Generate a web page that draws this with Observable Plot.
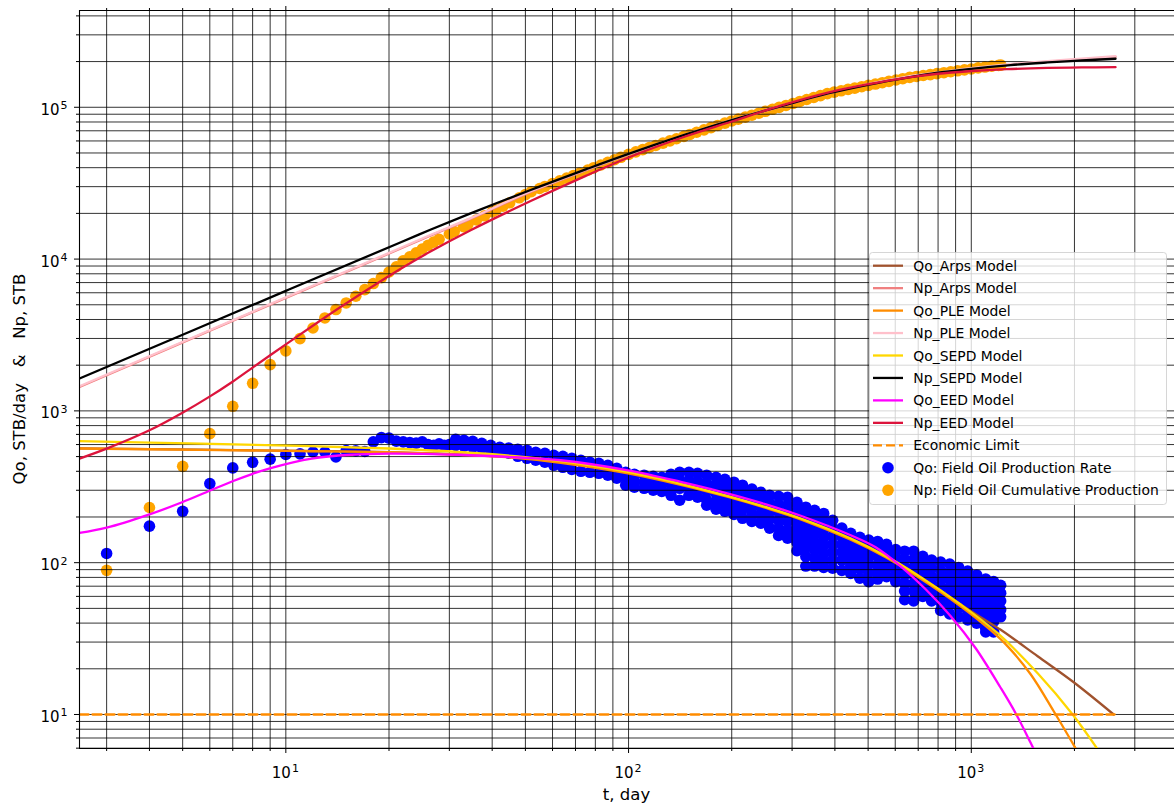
<!DOCTYPE html>
<html>
<head>
<meta charset="utf-8">
<script src="https://cdn.jsdelivr.net/npm/d3@7"></script>
<script src="https://cdn.jsdelivr.net/npm/@observablehq/plot@0.6"></script>
<style>
  html, body { margin: 0; padding: 0; background: #fff; }
  #chart { position: relative; width: 1174px; height: 807px; }
  #chart svg text { white-space: pre; }
  #overlay { position: absolute; left: 0; top: 0; pointer-events: none; }
</style>
</head>
<body>
<div id="chart"></div>
<script>
// ---------------- axis ticks & labels ----------------
const xMajorTicks = [10, 100, 1000];
const xTickLabels = ["10^1", "10^2", "10^3"];
const xMinorTicks = [3,4,5,6,7,8,9,20,30,40,50,60,70,80,90,200,300,400,500,600,700,800,900,2000,3000];
const yMajorTicks = [10, 100, 1000, 10000, 100000];
const yTickLabels = ["10^1", "10^2", "10^3", "10^4", "10^5"];
const yMinorTicks = [6,7,8,9,20,30,40,50,60,70,80,90,200,300,400,500,600,700,800,900,
  2000,3000,4000,5000,6000,7000,8000,9000,20000,30000,40000,50000,60000,70000,80000,90000,200000,300000,400000];
const xDomain = [2.5, 3917];
const yDomain = [5.97, 434000];
const xTitle = "t, day";
const yTitle = "Qo, STB/day   &   Np, STB";

// ---------------- observed data ----------------
// Qo: field oil production rate (STB/day)
const qoEarlyDays  = [3,4,5,6,7,8,9,10,11,12,13,14,15,16,17,18,19,20,21,22,23,24,25,26,27,28,29,30];
const qoEarlyRates = [115,174,218,332,421,458,481,516,521,536,536,497,548,545,540,625,667,662,632,625,618,613,625,600,593,606,593,600];
const qoCloudDays = [31.3,33.1,35.1,37.3,39.6,42.1,44.7,47.5,50.5,53.6,57,60.5,64.3,68.3,72.6,77.1,81.9,87,92.4,98.1,
  104,111,118,125,133,141,150,159,169,180,191,203,215,229,243,258,274,291,310,329,
  349,371,394,419,445,473,502,533,566,602,639,679,722,766,814,865,919,976,1037,1102,1162,1218];
const qoCloudRates = [
  [650,593],[640,585],[631,576],[612,568],[593,550],[576,542],[568,526],[559,502],[550,487],[534,473],
  [526,459],[510,438],[502,425],[487,412],[473,400],[459,394],[452,388],[438,406,377],[419,388,360],[394,360,324],
  [382,344,314],[377,339,309],[371,334,300],[365,328,295],[382,339,300,278],[394,349,309,258],[394,349,309,278],[388,344,305,270],[377,334,295,258,239],[365,324,286,254,225],
  [354,314,278,246,218],[339,300,265,235,208],[324,286,254,225,196],[305,270,239,211,187],[291,262,232,205,182],[278,246,218,193,169],[274,243,215,190,169,151],[270,239,211,187,163,145],[250,221,196,174,154,136,120],[232,205,182,161,143,126,110,95],
  [221,196,174,154,136,121,107,95],[211,187,166,147,130,115,102,93],[190,169,149,132,117,104,92],[169,149,132,117,104,89],[156,138,122,109,96,85],[147,130,115,102,91,79],[141,124,110,98,86,75],[138,122,109,96,85,78],[132,117,104,92,81],[122,109,96,85,75],
  [119,105,93,83,73,65,57],[119,105,93,83,73,65,56],[110,98,86,77,68,60],[104,92,81,72,64,56],[101,89,79,70,62,55,48.5],[98,86,77,68,60,53,46],[93,83,73,65,57,51,44],[88,78,69,61,54,48,42],[83,73,65,57,51,45,40],[78,69,61,54,48,42,37,35],
  [75,67,59,52,46,41,35],[71,63,56,49,44]
];
// Np: field oil cumulative production (STB)
const npEarlyDays   = [3,4,5,6,7,8,9,10,11,12,13,14,15,16,17,18,19,20,21];
const npEarlyValues = [89,231,431,708,1072,1520,2018,2483,2993,3516,4094,4650,5140,5690,6290,6900,7550,8220,8900];
const npBandDays = [22,23,24,25,26,27,28,30,31,33,34,36,38,40,41,43,45,48,50,52,55,57,60,63,66,69,72,76,79,83,87,91,95,100,105,
  110,115,120,126,132,138,145,151,158,166,174,182,191,200,209,219,229,240,251,263,275,288,302,316,331,347,363,380,398,417,437,457,479,
  501,525,550,575,603,631,661,692,724,759,794,832,871,912,955,1000,1047,1096,1148,1202,1220];
const npBandValues = [9730,10350,10990,11650,12320,12940,13500,14630,15200,16350,16930,18100,19280,20480,21070,22280,23490,25330,26570,27780,29160,
  30080,31450,32810,34150,35490,36820,38590,39900,41650,43380,45100,46810,48940,50830,52580,54310,56020,58040,60050,62030,64320,
  66240,68470,70980,73450,75890,78610,81260,83610,86150,88690,91410,94100,96980,99790,102800,106000,109200,112500,116000,119400,123000,
  125800,128400,131100,133800,136600,139300,142200,145200,148100,151200,154300,157400,159600,161900,164200,166600,169000,171400,173900,176400,178700,
  181800,184100,186600,188900,189500];

// ---------------- model curves ----------------
const qoArpsDays  = [2.5,5.65,11.06,20,32,46.6,63.4,99.5,142,194,249,318,445,562.7,697.6,931,1194,1243,1562,1990,2603];
const qoArpsRates = [566,555,545,535,516,495,460,393,329,274,233,194.5,144.3,110.7,82.8,53.1,37.2,35.1,24.2,16.3,10];
const npArpsDays   = [2.5,10,21.4,26.5,34.6,51.8,75,100,147,199,278,384,499,657,798,983,1303,1671,2099,2636];
const npArpsValues = [1437,5550,11610,14310,18410,27680,38360,48680,65550,81530,101100,123400,140800,158400,167800,178300,190700,199500,207000,214600];
const qoPleDays  = [2.5,5.65,11.06,20,32,46.6,63.4,99.5,142,194,249,318,445,562.7,697.6,931,1139,1277,1490,1740,2017];
const qoPleRates = [565,554,544,534,514,491,455,388,326,272,231,193,141.5,108.5,80.7,51.6,35.9,28.1,18.4,10.5,5.97];
const npPleDays   = [2.5,10,21.4,26.5,34.6,51.8,75,100,147,199,278,384,499,657,798,983,1303,1671,2099,2636];
const npPleValues = [1452,5600,11730,14460,18600,27960,38750,49170,66210,82350,102100,124600,142200,160000,169500,180100,192600,201500,209100,216800];
const qoSepdDays  = [2.5,5.65,11.06,20,32,46.6,63.4,99.5,142,194,249,318,445,562.7,697.6,931,1194,1562,1976,2337];
const qoSepdRates = [632,608,588,565,536,503,466,396,331,275.5,234,195.5,144.3,110.7,82.8,53.1,34.3,18.7,10,5.9];
const npSepdDays   = [2.5,10,21.4,26.5,34.6,51.8,75,100,147,199,278,384,499,657,798,983,1303,1671,2099,2636];
const npSepdValues = [1633,6173,12770,15650,20000,28530,38980,49320,66210,82110,101500,123700,140700,157600,168800,178500,189700,197300,203400,208700];
const qoEedDays  = [2.5,3,4,4.98,5.99,6.99,8,8.98,11.9,15.5,20,32,46.6,63.4,99.5,142,194,249,318,445,526,622.5,736,871,1030,1218,1347,1490,1594];
const qoEedRates = [157,170,208,250,297.6,343.8,385,418.6,485,514,523,514,495,473,406,341,286.6,244.3,203.7,151.5,126.3,94.7,66.8,44.4,27.3,15,10.2,6.51,4.77];
const npEedDays   = [2.5,3,4,4.98,5.99,6.99,8,10,11.9,14.9,21.4,26.5,34.6,51.8,75,100,147,199,278,384,499,657,798,983,1268,1671,2099,2636];
const npEedValues = [485,564,745,969,1241,1557,1929,2742,3597,5053,8503,11250,15480,24110,35330,46700,64400,80300,102500,125500,141800,157600,166300,172700,178200,181500,182900,183700];
const econDays  = [2.5, 2620];
const econRates = [10, 10];

// legend
const legendLabels = ["Qo_Arps Model","Np_Arps Model","Qo_PLE Model","Np_PLE Model","Qo_SEPD Model","Np_SEPD Model",
  "Qo_EED Model","Np_EED Model","Economic Limit","Qo: Field Oil Production Rate","Np: Field Oil Cumulative Production"];
const legendColors = ["#a0522d","#f08080","#ff8c00","#ffc0cb","#ffd700","#000000","#ff00ff","#dc143c","#ff8c00","#0000ff","#ffa500"];
const legendKinds  = ["line","line","line","line","line","line","line","line","dash","dot","dot"];

// ---------------- build tables ----------------
const toRows = (days, vals) => days.map((t, i) => ({t, v: vals[i]}));
const qoPoints = [
  ...toRows(qoEarlyDays, qoEarlyRates),
  ...qoCloudDays.flatMap((t, i) => qoCloudRates[i].map(v => ({t, v})))
];
const npPoints = [...toRows(npEarlyDays, npEarlyValues), ...toRows(npBandDays, npBandValues)];
const models = [
  {rows: toRows(qoArpsDays, qoArpsRates), color: legendColors[0]},
  {rows: toRows(npArpsDays, npArpsValues), color: legendColors[1]},
  {rows: toRows(qoPleDays, qoPleRates), color: legendColors[2]},
  {rows: toRows(npPleDays, npPleValues), color: legendColors[3]},
  {rows: toRows(qoSepdDays, qoSepdRates), color: legendColors[4]},
  {rows: toRows(npSepdDays, npSepdValues), color: legendColors[5]},
  {rows: toRows(qoEedDays, qoEedRates), color: legendColors[6]},
  {rows: toRows(npEedDays, npEedValues), color: legendColors[7]},
];
const econRows = toRows(econDays, econRates);

const gridStyle = {stroke: "#000", strokeOpacity: 0.8, strokeWidth: 1};
const noLabel = () => "";

const plot = Plot.plot({
  width: 1174,
  height: 807,
  marginLeft: 79,
  marginRight: 0,
  marginTop: 10,
  marginBottom: 59,
  style: {fontFamily: "DejaVu Sans", fontSize: "14.5px", color: "#000", background: "transparent", overflow: "visible"},
  x: {type: "log", domain: xDomain, label: null},
  y: {type: "log", domain: yDomain, label: null},
  marks: [
    Plot.dot(qoPoints, {x: "t", y: "v", r: 5.8, fill: "#0000ff", clip: true}),
    Plot.dot(npPoints, {x: "t", y: "v", r: 5.8, fill: "#ffa500", clip: true}),
    Plot.ruleX([...xMinorTicks, ...xMajorTicks], gridStyle),
    Plot.ruleY([...yMinorTicks, ...yMajorTicks], gridStyle),
    ...models.map(m => Plot.line(m.rows, {x: "t", y: "v", stroke: m.color, strokeWidth: 2.3, curve: "catmull-rom", clip: true})),
    Plot.line(econRows, {x: "t", y: "v", stroke: "#ff8c00", strokeWidth: 2.3, strokeDasharray: "9,4", clip: true}),
    Plot.ruleX([xDomain[0]], {stroke: "#000", strokeWidth: 1.1}),
    Plot.ruleY([yDomain[0], yDomain[1]], {stroke: "#000", strokeWidth: 1.1}),
    Plot.axisX(xMajorTicks, {anchor: "bottom", tickSize: 5, tickFormat: noLabel, label: null}),
    Plot.axisX(xMinorTicks, {anchor: "bottom", tickSize: 3, tickFormat: noLabel, label: null}),
    Plot.axisX(xMajorTicks, {anchor: "top", tickSize: 5, tickFormat: noLabel, label: null}),
    Plot.axisX(xMinorTicks, {anchor: "top", tickSize: 3, tickFormat: noLabel, label: null}),
    Plot.axisY(yMajorTicks, {anchor: "left", tickSize: 5, tickFormat: noLabel, label: null}),
    Plot.axisY(yMinorTicks, {anchor: "left", tickSize: 3, tickFormat: noLabel, label: null})
  ]
});
const chart = document.getElementById("chart");
chart.appendChild(plot);

// ---------------- overlay: tick labels, axis titles & legend ----------------
const xs = plot.scale("x"), ys = plot.scale("y");
const ov = d3.select(chart).append("svg")
  .attr("id", "overlay").attr("width", 1174).attr("height", 807)
  .style("font-family", "DejaVu Sans");

function powerLabel(sel, label) {
  const [base, exp] = label.split("^");
  sel.append("tspan").attr("font-size", 15).text(base);
  sel.append("tspan").attr("font-size", 11).attr("dx", 1).attr("dy", -5.5).text(exp);
}
xMajorTicks.forEach((t, i) => {
  const tx = ov.append("text").attr("x", xs.apply(t)).attr("y", 777.5).attr("text-anchor", "middle").attr("fill", "#000");
  powerLabel(tx, xTickLabels[i]);
});
yMajorTicks.forEach((v, i) => {
  const tx = ov.append("text").attr("x", 67.5).attr("y", ys.apply(v) + 8).attr("text-anchor", "end").attr("fill", "#000");
  powerLabel(tx, yTickLabels[i]);
});

ov.append("text").attr("x", 626.5).attr("y", 800).attr("text-anchor", "middle")
  .attr("font-size", 16.5).attr("fill", "#000").text(xTitle);
ov.append("text").attr("transform", "translate(25,379) rotate(-90)").attr("text-anchor", "middle")
  .attr("font-size", 16.5).attr("fill", "#000").style("white-space", "pre").text(yTitle);

const lg = ov.append("g");
lg.append("rect").attr("x", 869.5).attr("y", 252.5).attr("width", 297).attr("height", 252).attr("rx", 3)
  .attr("fill", "#fff").attr("fill-opacity", 0.8).attr("stroke", "#cccccc").attr("stroke-opacity", 0.8);
legendLabels.forEach((label, i) => {
  const cy = 265.7 + i * 22.45;
  const kind = legendKinds[i];
  if (kind === "dot") {
    lg.append("circle").attr("cx", 888).attr("cy", cy).attr("r", 5.8).attr("fill", legendColors[i]);
  } else {
    lg.append("line").attr("x1", 873).attr("x2", 903).attr("y1", cy).attr("y2", cy)
      .attr("stroke", legendColors[i]).attr("stroke-width", 2.3)
      .attr("stroke-dasharray", kind === "dash" ? "9,4" : null);
  }
  lg.append("text").attr("x", 913.3).attr("y", cy + 5).attr("font-size", 13.9).attr("fill", "#000").text(label);
});
</script>
</body>
</html>
